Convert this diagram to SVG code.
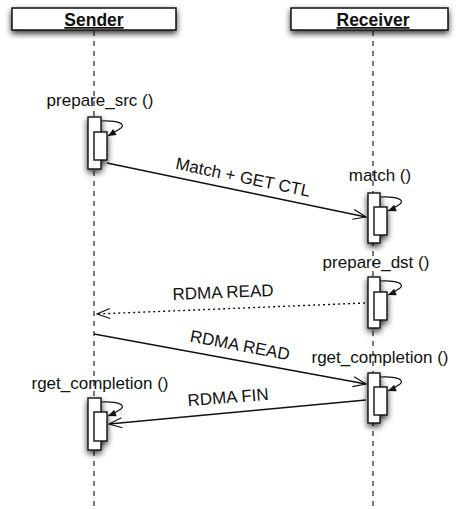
<svg xmlns="http://www.w3.org/2000/svg" width="456" height="509" viewBox="0 0 456 509">
<style>
text{font-family:"Liberation Sans",Arial,sans-serif;fill:#111}
.lbl{font-size:17px;text-anchor:middle}
.hdr{font-size:17.5px;font-weight:bold;text-anchor:middle;text-decoration:underline}
.box{fill:#fff;stroke:#111;stroke-width:1.5}
.act{fill:#fff;stroke:#111;stroke-width:1.4}
.life{stroke:#222;stroke-width:1.2;stroke-dasharray:5 5;fill:none}
.msg{stroke:#111;stroke-width:1.4;fill:none;marker-end:url(#open)}
.dot{stroke-dasharray:2 3}
.loop{stroke:#111;stroke-width:1.2;fill:none;marker-end:url(#solid)}
</style>
<defs>
<filter id="sh" x="-60%" y="-30%" width="220%" height="170%">
<feGaussianBlur in="SourceAlpha" stdDeviation="3"/>
<feOffset dx="0" dy="3" result="b"/>
<feComponentTransfer><feFuncA type="linear" slope="0.8"/></feComponentTransfer>
<feMerge><feMergeNode/><feMergeNode in="SourceGraphic"/></feMerge>
</filter>
<marker id="open" markerUnits="userSpaceOnUse" markerWidth="14" markerHeight="12" refX="13" refY="5.5" orient="auto" overflow="visible">
<path d="M0,0.5 L13,5.5 L0,10.5" fill="none" stroke="#111" stroke-width="1.2"/>
</marker>
<marker id="solid" markerUnits="userSpaceOnUse" markerWidth="10" markerHeight="8" refX="8" refY="3.5" orient="auto" overflow="visible">
<path d="M0,0 L8,3.5 L0,7 z" fill="#111"/>
</marker>
</defs>
<rect width="456" height="509" fill="#fff"/>

<g id="lifelines">
<line class="life" x1="94" y1="31" x2="94" y2="509"/>
<line class="life" x1="373" y1="31" x2="373" y2="509"/>
</g>

<g id="sender">
<rect class="box" x="12" y="8" width="164" height="22" filter="url(#sh)"/>
<text class="hdr" x="94" y="26">Sender</text>
</g>
<g id="receiver">
<rect class="box" x="291" y="8" width="157" height="22" filter="url(#sh)"/>
<text class="hdr" x="373" y="26">Receiver</text>
</g>

<g id="prepare_src">
<text class="lbl" x="100" y="106">prepare_src ()</text>
<g filter="url(#sh)">
<rect class="act" x="88" y="117" width="13" height="52"/>
<rect class="act" x="94" y="132" width="13" height="28"/>
</g>
</g>

<g id="match">
<text class="lbl" x="380" y="181">match ()</text>
<g filter="url(#sh)">
<rect class="act" x="368" y="193" width="12" height="50"/>
<rect class="act" x="374" y="207" width="13" height="28"/>
</g>
</g>

<g id="prepare_dst">
<text class="lbl" x="376" y="268">prepare_dst ()</text>
<g filter="url(#sh)">
<rect class="act" x="368" y="277" width="12" height="51"/>
<rect class="act" x="374" y="292" width="13" height="28"/>
</g>
</g>

<g id="rget_completion_recv">
<text class="lbl" x="380" y="363">rget_completion ()</text>
<g filter="url(#sh)">
<rect class="act" x="368" y="373" width="12" height="50"/>
<rect class="act" x="374" y="387" width="13" height="28"/>
</g>
</g>

<g id="rget_completion_send">
<text class="lbl" x="100" y="389">rget_completion ()</text>
<g filter="url(#sh)">
<rect class="act" x="88" y="398" width="13" height="52"/>
<rect class="act" x="94" y="412" width="13" height="29"/>
</g>
</g>

<g id="connectors">
<path class="loop" d="M101,121 C118,120 126,124 121,128 C118,130 113,133 108,136"/>
<path class="loop" d="M380,197 C397,196 405,200 400,204 C397,206 393,209 388,211"/>
<path class="loop" d="M380,281 C397,280 405,284 400,288 C397,290 393,293 388,295"/>
<path class="loop" d="M380,377 C397,376 405,380 400,384 C397,386 393,389 388,391"/>
<path class="loop" d="M101,402 C118,401 126,405 121,409 C118,411 113,414 108,416"/>

<line class="msg" x1="107" y1="163" x2="366" y2="217"/>
<text class="lbl" transform="translate(243,177) rotate(11.8)" y="6">Match + GET CTL</text>

<line class="msg dot" x1="365" y1="303" x2="97" y2="314"/>
<text class="lbl" transform="translate(223,292) rotate(-2.3)" y="6">RDMA READ</text>

<line class="msg" x1="94" y1="334" x2="366" y2="384"/>
<text class="lbl" transform="translate(240,345) rotate(10.6)" y="6">RDMA READ</text>

<line class="msg" x1="366" y1="400" x2="109" y2="424"/>
<text class="lbl" transform="translate(228,397) rotate(-4.5)" y="6">RDMA FIN</text>
</g>
</svg>
